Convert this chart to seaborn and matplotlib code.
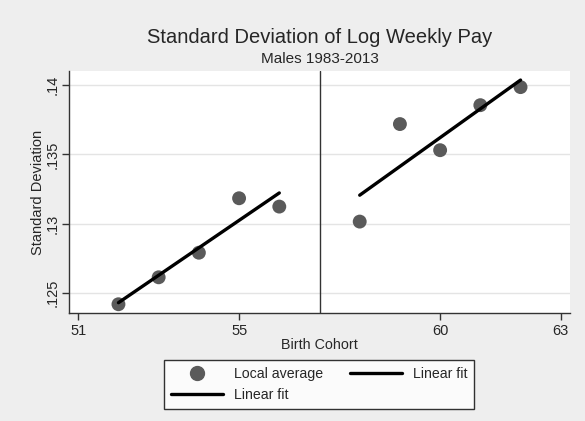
import matplotlib
matplotlib.use("Agg")
import matplotlib.pyplot as plt
import seaborn as sns
import pandas as pd
from matplotlib.lines import Line2D

# Data
cohort_left = [52, 53, 54, 55, 56]
sd_left = [0.12421, 0.12615, 0.12792, 0.13184, 0.13124]
cohort_right = [58, 59, 60, 61, 62]
sd_right = [0.13016, 0.13718, 0.13530, 0.13854, 0.13984]
cutoff = 57
x_ticks = [51, 55, 60, 63]
y_ticks = [0.125, 0.13, 0.135, 0.14]
y_tick_labels = [".125", ".13", ".135", ".14"]

df = pd.DataFrame({
    "cohort": cohort_left + cohort_right,
    "sd": sd_left + sd_right,
    "side": ["left"] * len(cohort_left) + ["right"] * len(cohort_right),
})

sns.set_style("white")
plt.rcParams["font.family"] = ["Liberation Sans", "DejaVu Sans"]

bg = "#eeeeee"
fig = plt.figure(figsize=(5.85, 4.21), dpi=100, facecolor=bg)
ax = fig.add_axes([69/585, 1-313/421, (570-69)/585, (313-71)/421])
ax.set_facecolor("white")

for y in y_ticks:
    ax.axhline(y, color="#e4e4e4", lw=1.0, zorder=0)

sns.scatterplot(data=df, x="cohort", y="sd", ax=ax, color="#5a5a5a", s=100,
                edgecolor="none", zorder=3, legend=False)
left = df[df.side == "left"]
right = df[df.side == "right"]
sns.regplot(data=left, x="cohort", y="sd", ax=ax, scatter=False, ci=None,
            color="black", line_kws={"lw": 2.4, "zorder": 4}, truncate=True)
sns.regplot(data=right, x="cohort", y="sd", ax=ax, scatter=False, ci=None,
            color="black", line_kws={"lw": 2.4, "zorder": 4}, truncate=True)
ax.axvline(cutoff, color="#333333", lw=1.0, zorder=2)

ax.set_xlim(50.77, 63.23)
ax.set_ylim(0.12358, 0.1410)
ax.set_xticks(x_ticks)
ax.set_xticklabels([str(t) for t in x_ticks], fontsize=10.5)
ax.set_yticks(y_ticks)
ax.set_yticklabels(y_tick_labels, fontsize=10.5, rotation=90, va="center")
ax.tick_params(axis="both", direction="out", length=5, width=1, color="#333333",
               left=True, bottom=True)
ax.tick_params(axis="y", pad=1.5)
ax.tick_params(axis="x", pad=3)
for s in ["top", "right"]:
    ax.spines[s].set_visible(False)
for s in ["left", "bottom"]:
    ax.spines[s].set_color("#333333")
    ax.spines[s].set_linewidth(1.0)

ax.set_xlabel("Birth Cohort", fontsize=10.3, labelpad=0)
ax.set_ylabel("Standard Deviation", fontsize=10.5, labelpad=1)

fig.text(319.5/585, 1-37.5/421, "Standard Deviation of Log Weekly Pay",
         ha="center", va="center", fontsize=14.5)
fig.text(319.5/585, 1-59/421, "Males 1983-2013", ha="center", va="center", fontsize=11)

h_pt = Line2D([], [], marker="o", ls="none", color="#5a5a5a", markersize=10)
h_l1 = Line2D([], [], color="black", lw=2.4)
h_l2 = Line2D([], [], color="black", lw=2.4)
leg = fig.legend([h_pt, h_l2, h_l1], ["Local average", "Linear fit", "Linear fit"],
                 ncol=2, loc="center", bbox_to_anchor=(319/585, 1-384.5/421),
                 frameon=True, fancybox=False, edgecolor="black", facecolor="white",
                 fontsize=10.2, handlelength=3.7, columnspacing=1.9, handletextpad=0.75,
                 labelspacing=0.45, borderpad=0.5, borderaxespad=0)
leg.get_frame().set_linewidth(1.0)

fig.savefig("out.png", dpi=100, facecolor=bg)
